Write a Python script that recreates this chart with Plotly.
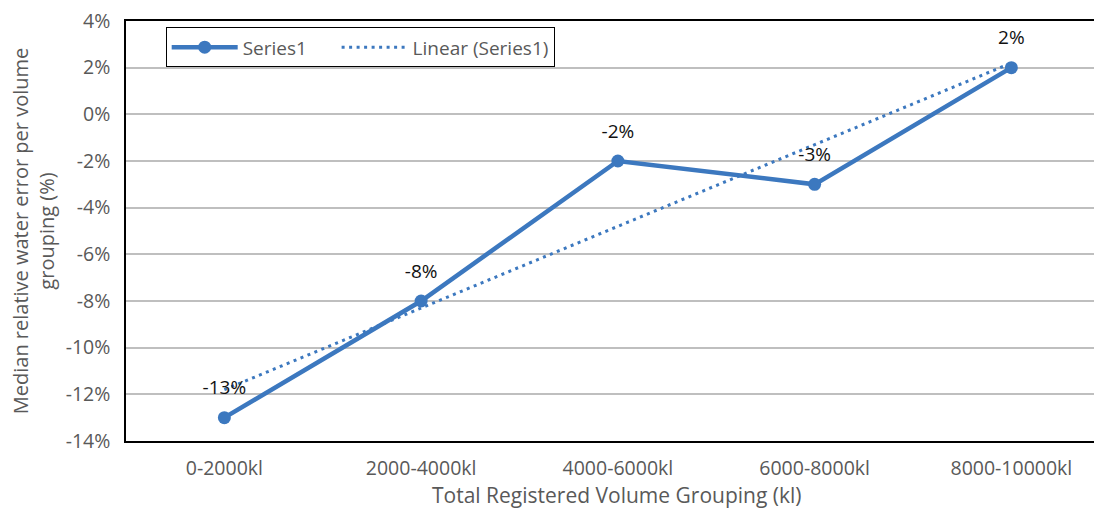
import plotly.graph_objects as go

categories = ["0-2000kl", "2000-4000kl", "4000-6000kl", "6000-8000kl", "8000-10000kl"]
series1 = [-0.13, -0.08, -0.02, -0.03, 0.02]
y_ticks = [-0.14, -0.12, -0.10, -0.08, -0.06, -0.04, -0.02, 0.0, 0.02, 0.04]
y_tick_labels = ["-14%", "-12%", "-10%", "-8%", "-6%", "-4%", "-2%", "0%", "2%", "4%"]
x_title = "Total Registered Volume Grouping (kl)"
y_title = "Median relative water error per volume<br>grouping (%)"

# linear trendline fitted from the series (least squares)
n = len(series1)
xs = list(range(1, n + 1))
mx = sum(xs) / n
my = sum(series1) / n
slope = sum((x - mx) * (y - my) for x, y in zip(xs, series1)) / sum((x - mx) ** 2 for x in xs)
intercept = my - slope * mx
trend = [intercept + slope * x for x in xs]

blue = "#3C78BF"
font_family = "'Open Sans', sans-serif"
gray = "#595959"
nb = "\u00a0"

fig = go.Figure()
fig.add_trace(go.Scatter(
    x=categories, y=series1, name="Series1" + nb * 5, mode="lines+markers",
    line=dict(color=blue, width=4.5),
    marker=dict(color=blue, size=13),
))
fig.add_trace(go.Scatter(
    x=categories, y=trend, name="Linear (Series1)", mode="lines",
    line=dict(color=blue, width=3, dash="3px,4.5px"),
))
# data labels (invisible larger markers give extra offset above the points)
fig.add_trace(go.Scatter(
    x=categories, y=series1, mode="markers+text", showlegend=False, hoverinfo="skip",
    marker=dict(size=28, opacity=0),
    text=[f"{round(v*100)}%" for v in series1],
    textposition="top center",
    textfont=dict(size=19, color="#111111", family=font_family),
))

fig.update_layout(
    width=1094, height=509,
    margin=dict(l=126, r=0, t=21, b=68),
    paper_bgcolor="white", plot_bgcolor="white",
    font=dict(family=font_family, size=19, color=gray),
    showlegend=True,
    legend=dict(
        orientation="h", x=0.041, y=0.985, xanchor="left", yanchor="top",
        bordercolor="#000000", borderwidth=1, bgcolor="white",
        font=dict(size=19, color=gray), itemwidth=66,
    ),
    xaxis=dict(
        type="category", range=[-0.5, 4.42],
        showline=True, linecolor="#000000", linewidth=1.5, mirror=True,
        showgrid=False, ticks="", ticklabelstandoff=9, automargin=False,
        tickfont=dict(size=19.5, color=gray),
    ),
    yaxis=dict(
        range=[-0.14, 0.04], tickvals=y_ticks, ticktext=y_tick_labels,
        showline=True, linecolor="#000000", linewidth=1.5, mirror=True,
        showgrid=True, gridcolor="#BFBFBF", gridwidth=1.5, zeroline=False,
        ticks="", ticklabelstandoff=10, automargin=False,
        tickfont=dict(size=19.5, color=gray),
        title=dict(text=y_title, font=dict(size=20, color=gray), standoff=6),
    ),
    annotations=[dict(
        text=x_title, xref="paper", yref="paper", x=0.507, y=0,
        xanchor="center", yanchor="middle", yshift=-54, showarrow=False,
        font=dict(size=21, color=gray),
    )],
)

fig.write_html("out.html", config={"displayModeBar": False},
               post_script="document.body.style.margin='0';document.body.style.padding='0';")
